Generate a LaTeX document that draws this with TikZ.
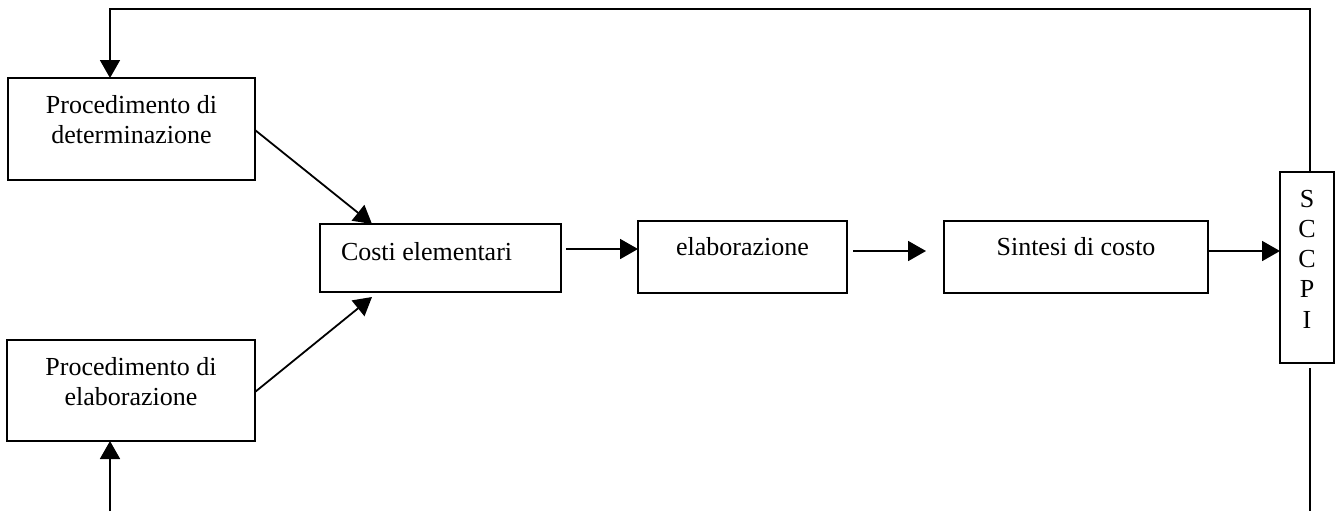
\documentclass[tikz,border=0pt]{standalone}
\usepackage{fontspec}
\setmainfont{Liberation Serif}
\usetikzlibrary{arrows.meta,calc}
\begin{document}
\begin{tikzpicture}[x=0.5pt,y=-0.5pt,
  box/.style={draw,line width=1.15pt,inner sep=0pt,outer sep=0pt},
  lbl/.style={inner sep=0pt,outer sep=0pt,font=\fontsize{13}{15}\selectfont},
  link/.style={line width=0.9pt},
  arr/.style={link,-{Triangle[length=9pt,width=10pt]}}]
\useasboundingbox (0,0) rectangle (1342,511);

% boxes
\node[box,minimum width=123.5pt,minimum height=51pt]  (det)   at (131.5,129)  {};
\node[box,minimum width=124pt,minimum height=50.5pt]  (ela)   at (131,390.5)  {};
\node[box,minimum width=120.5pt,minimum height=34pt]  (costi) at (440.5,258)  {};
\node[box,minimum width=104.5pt,minimum height=36pt]  (elab)  at (742.5,257)  {};
\node[box,minimum width=132pt,minimum height=36pt]    (sint)  at (1076,257)   {};
\node[box,minimum width=27pt,minimum height=95.5pt]   (sccpi) at (1307,267.5) {};

% labels
\node[lbl,anchor=base] (det1) at (131.5,113) {Procedimento di};
\node[lbl,anchor=base] (det2) at (131.5,143) {determinazione};
\node[lbl,anchor=base] (ela1) at (131,375) {Procedimento di};
\node[lbl,anchor=base] (ela2) at (131,405) {elaborazione};
\node[lbl,anchor=base west] (costit) at (341,260) {Costi elementari};
\node[lbl,anchor=base] (elabt) at (742.5,255) {elaborazione};
\node[lbl,anchor=base] (sintt) at (1076,255) {Sintesi di costo};
\foreach \l [count=\i] in {S,C,C,P,I}
  \node[lbl,anchor=base] (sc\i) at (1307,{207+30.25*(\i-1)}) {\l};

% connectors
\coordinate (ftop) at (110,9);
\coordinate (rbot) at (1310,511);
\coordinate (lbot) at (110,511);

\draw[arr] ($(sccpi.north)+(3,0)$) |- (ftop) -- ($(det.north)+(-21.5,0)$);
\draw[link] ($(sccpi.south)+(3,5)$) -- (rbot);
\draw[arr] (lbot) -- ($(ela.south)+(-21,0)$);

\draw[arr] ($(det.east)+(0,1)$) -- ($(costi.north west)+(52,0)$);
\draw[arr] ($(ela.east)+(0,1.5)$) -- ($(costi.south west)+(52,5)$);
\draw[arr] ($(costi.east)+(5,-9)$) -- ($(elab.west)+(0,-8)$);
\draw[arr] ($(elab.east)+(6,-6)$) -- ($(sint.west)+(-18,-6)$);
\draw[arr] ($(sint.east)+(0,-6)$) -- ($(sccpi.west)+(0,-16.5)$);
\end{tikzpicture}
\end{document}
